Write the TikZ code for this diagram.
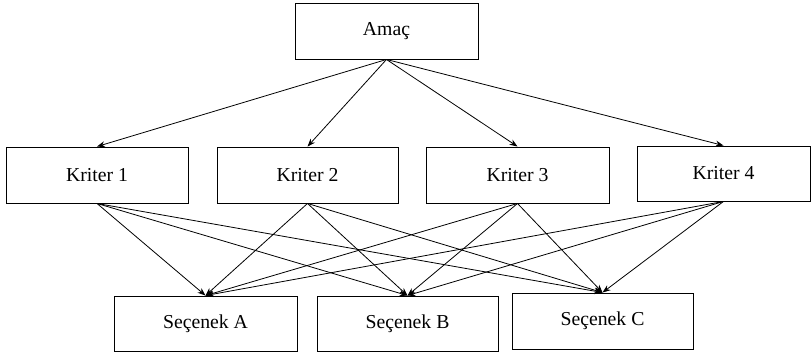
\documentclass[tikz,border=0pt]{standalone}
\usepackage{fontspec}
\setmainfont{Liberation Serif}
\usetikzlibrary{arrows.meta}
\begin{document}
\begin{tikzpicture}[x=0.75pt,y=-0.75pt,
  box/.style={draw, line width=0.7pt, rectangle, inner sep=0pt, font=\fontsize{14.8}{18}\selectfont},
  conn/.style={line width=0.6pt, -{Stealth[length=6pt,width=4.5pt]}}]
\useasboundingbox (0,0) rectangle (811,356);
\node[box, minimum width=137.25pt, minimum height=42pt] (goal) at (386.5,31) {Amaç};
\node[box, minimum width=136.5pt, minimum height=42pt] (k1) at (97,175) {Kriter 1};
\node[box, minimum width=135.75pt, minimum height=42pt] (k2) at (307.5,175) {Kriter 2};
\node[box, minimum width=137.25pt, minimum height=42pt] (k3) at (517.5,175) {Kriter 3};
\node[box, minimum width=129.75pt, minimum height=41.25pt] (k4) at (723.5,173.5) {Kriter 4};
\node[box, minimum width=137.25pt, minimum height=41.25pt] (sa) at (205.5,323.5) {Seçenek A};
\node[box, minimum width=135.75pt, minimum height=41.25pt] (sb) at (407.5,323.5) {Seçenek B};
\node[box, minimum width=135.75pt, minimum height=42pt] (sc) at (602.5,321) {Seçenek C};
\foreach \k in {k1,k2,k3,k4} {
  \draw[conn] (goal.south) -- (\k.north);
  \foreach \s in {sa,sb,sc} {
    \draw[conn] (\k.south) -- (\s.north);
  }
}
\end{tikzpicture}
\end{document}
